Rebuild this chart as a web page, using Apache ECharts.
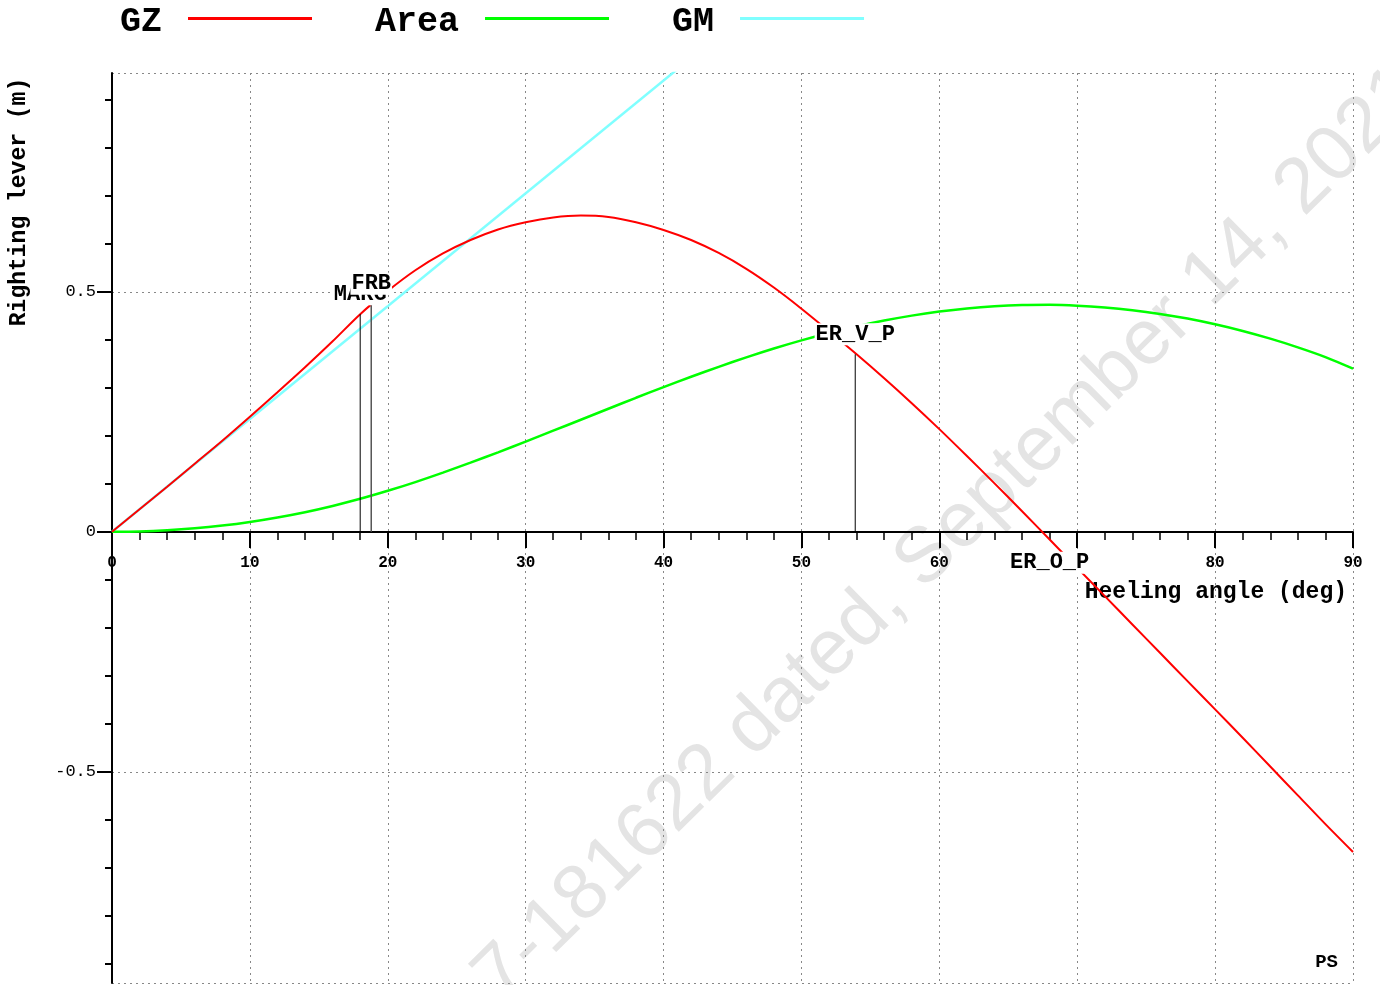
<!DOCTYPE html>
<html><head><meta charset="utf-8">
<script src="https://cdn.jsdelivr.net/npm/echarts@6/dist/echarts.min.js"></script>
<style>html,body{margin:0;padding:0;background:#fff}#c{width:1380px;height:985px}</style>
</head><body><div id="c"></div>
<script>
// Heel angles (deg)
const angles = [0,2,4,6,8,10,12,14,16,18,20,22,24,26,28,30,32,34,36,38,40,42,44,46,48,50,52,54,56,58,60,62,64,66,68,70,72,74,76,78,80,82,84,86,88,90];
// GZ righting lever (m)
const gzValues = [0,0.047,0.094,0.142,0.190,0.240,0.291,0.343,0.397,0.4535,0.502,0.545,0.580,0.608,0.630,0.645,0.655,0.659,0.656,0.645,0.629,0.608,0.581,0.548,0.509,0.465,0.418,0.370,0.320,0.268,0.214,0.158,0.101,0.043,-0.016,-0.075,-0.134,-0.193,-0.252,-0.311,-0.370,-0.429,-0.489,-0.549,-0.609,-0.667];
// Area under GZ (m.rad)
const areaValues = [0,0.0008,0.0033,0.0074,0.0132,0.0207,0.0300,0.0410,0.0540,0.0688,0.0855,0.1037,0.1234,0.1441,0.1657,0.1880,0.2107,0.2336,0.2565,0.2793,0.3015,0.3231,0.3438,0.3635,0.3820,0.3990,0.4144,0.4281,0.4402,0.4505,0.4589,0.4654,0.4699,0.4724,0.4729,0.4713,0.4676,0.4619,0.4541,0.4443,0.4324,0.4185,0.4025,0.3844,0.3641,0.3400];
// GM tangent line: angle (deg), lever (m)
const gmAngles = [0, 57.3];
const gmValues = [0, 1.347];
// Criteria markers
const markerNames = ['MARG','FRB','ER_V_P','ER_O_P'];
const markerAngles = [18.0, 18.8, 53.9, 68.0];
const markerLevels = [0.4535, 0.475, 0.37, 0];
// Axis range and tick labels
const yMin = -0.94, yMax = 0.956;
const yLabelValues = [-0.5, 0, 0.5];
const yMinorValues = [-0.9,-0.8,-0.7,-0.6,-0.4,-0.3,-0.2,-0.1,0.1,0.2,0.3,0.4,0.6,0.7,0.8,0.9];
const legendNames = ['GZ','Area','GM'];

const MONO = 'Liberation Mono';
const GRID = { left: 112, right: 27, top: 73, bottom: 2 };
const gridH = 985 - GRID.top - GRID.bottom;
const xAxisOffset = -Math.round(gridH * (0 - yMin) / (yMax - yMin));

const chart = echarts.init(document.getElementById('c'), null, {renderer:'canvas'});

const markerLineSeries = markerAngles.map((a, i) => ({
  name: 'm_' + markerNames[i], type: 'line', silent: true, symbol: 'none', z: 3,
  data: [[a, 0], [a, markerLevels[i]]],
  lineStyle: { color: markerNames[i] === 'FRB' ? '#555' : '#000', width: markerNames[i] === 'FRB' ? 1.5 : 1 }
}));

const labelSeries = {
  name: 'labels', type: 'scatter', silent: true, z: 10, symbolSize: 0,
  itemStyle: { color: '#000', opacity: 1 },
  data: markerAngles.map((a, i) => ({
    value: [a, markerLevels[i]],
    label: {
      show: true, formatter: markerNames[i],
      position: markerNames[i] === 'ER_O_P' ? 'bottom' : 'top',
      distance: markerNames[i] === 'ER_O_P' ? 20 : 9,
      fontFamily: MONO, fontWeight: 'bold', fontSize: 22, color: '#000', opacity: 1,
      backgroundColor: '#fff', padding: [0, 1, 0, 1]
    }
  }))
};

const option = {
  animation: false,
  backgroundColor: '#fff',
  grid: Object.assign({ containLabel: false, outerBoundsMode: 'none' }, GRID),
  legend: {
    data: legendNames, left: 115, top: 0, align: 'right', orient: 'horizontal',
    icon: 'rect', itemWidth: 124, itemHeight: 3, itemGap: 63,
    formatter: name => '{t|' + name + '}',
    textStyle: { fontFamily: MONO, fontWeight: 'bold', fontSize: 35, color: '#000', padding: [0, 21, 0, 0],
      rich: { t: { fontFamily: MONO, fontWeight: 'bold', fontSize: 35, color: '#000', padding: [8, 0, 0, 0] } } }
  },
  xAxis: {
    type: 'value', min: 0, max: 90, interval: 10, position: 'bottom', offset: xAxisOffset,
    axisLine: { onZero: false, lineStyle: { color: '#000', width: 2 } },
    axisTick: { show: true, length: 16, lineStyle: { color: '#000', width: 2 } },
    minorTick: { show: true, splitNumber: 5, length: 8, lineStyle: { color: '#000', width: 1.5 } },
    axisLabel: { margin: 23, fontFamily: MONO, fontWeight: 'bold', fontSize: 16, color: '#000' },
    splitLine: { show: true, lineStyle: { color: '#888', type: [2, 4], width: 1 } }
  },
  yAxis: [{
    type: 'value', min: yMin, max: yMax, position: 'left',
    axisLine: { show: true, onZero: false, lineStyle: { color: '#000', width: 2 } },
    axisTick: { show: true, length: 0, customValues: [yMin, -0.5, 0, 0.5, yMax] },
    axisLabel: { show: false },
    splitLine: { show: true, lineStyle: { color: '#888', type: [2, 4], width: 1 } }
  }, {
    type: 'value', min: yMin, max: yMax, position: 'left', offset: 0,
    axisLine: { show: false },
    axisTick: { show: true, length: 15, customValues: yLabelValues, lineStyle: { color: '#000', width: 2 } },
    axisLabel: { show: true, customValues: yLabelValues, margin: 16, fontFamily: MONO, fontSize: 17, color: '#000',
      formatter: v => (v === 0 ? '0' : String(v)) },
    splitLine: { show: false }
  }, {
    type: 'value', min: yMin, max: yMax, position: 'left', offset: 0,
    axisLine: { show: false },
    axisTick: { show: true, length: 7, customValues: yMinorValues, lineStyle: { color: '#000', width: 2 } },
    axisLabel: { show: false },
    splitLine: { show: false }
  }],
  graphic: [
    { type: 'text', z: -10, x: 950, y: 535, rotation: 44.5 * Math.PI / 180,
      style: { text: '7-181622 dated, September 14, 2021', fontFamily: 'Liberation Sans', fontSize: 78,
        fill: '#e4e4e4', textAlign: 'center', textVerticalAlign: 'middle' } },
    { type: 'text', x: 19, y: 202, rotation: Math.PI / 2,
      style: { text: 'Righting lever (m)', fontFamily: MONO, fontWeight: 'bold', fontSize: 23, fill: '#000',
        textAlign: 'center', textVerticalAlign: 'middle' } },
    { type: 'text', x: 1347, y: 592,
      style: { text: 'Heeling angle (deg)', fontFamily: MONO, fontWeight: 'bold', fontSize: 23, fill: '#000',
        textAlign: 'right', textVerticalAlign: 'middle' } },
    { type: 'text', x: 1338, y: 962,
      style: { text: 'PS', fontFamily: MONO, fontWeight: 'bold', fontSize: 19, fill: '#000',
        textAlign: 'right', textVerticalAlign: 'middle' } }
  ],
  series: [
    { name: 'GM', type: 'line', symbol: 'none', z: 2, color: '#80ffff',
      data: gmAngles.map((a, i) => [a, gmValues[i]]),
      lineStyle: { color: '#80ffff', width: 2.5 } },
    { name: 'Area', type: 'line', symbol: 'none', z: 2, color: '#00ff00', smooth: 0.3,
      data: angles.map((a, i) => [a, areaValues[i]]),
      lineStyle: { color: '#00ff00', width: 2.5 } },
    { name: 'GZ', type: 'line', symbol: 'none', z: 2, color: '#ff0000', smooth: 0.3,
      data: angles.map((a, i) => [a, gzValues[i]]),
      lineStyle: { color: '#ff0000', width: 2 } },
    ...markerLineSeries,
    labelSeries
  ]
};
chart.setOption(option);
</script>
</body></html>
